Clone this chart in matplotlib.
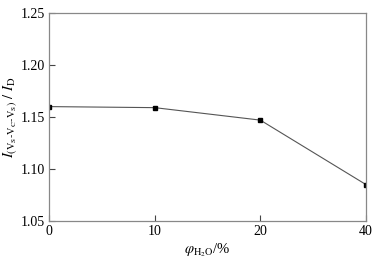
import matplotlib.pyplot as plt

labels = ['0', '10', '20', '40']
ratio = [1.160, 1.159, 1.147, 1.085]

plt.rcParams['font.family'] = ['Liberation Serif', 'DejaVu Serif']
plt.rcParams['mathtext.fontset'] = 'stix'

fig = plt.figure(figsize=(3.73, 2.58), dpi=100)
ax = fig.add_axes([49 / 373, 1 - 221 / 258, 317 / 373, 208 / 258])

x = list(range(len(labels)))
ax.plot(x, ratio, color='#555555', lw=0.8, marker='s', ms=3.5,
        mfc='black', mec='black', clip_on=True)

ax.set_xlim(0, 3)
ax.set_ylim(1.05, 1.25)
ax.set_xticks(x)
ax.set_xticklabels(labels)
ax.set_yticks([1.05, 1.10, 1.15, 1.20, 1.25])
ax.set_yticklabels(['1.05', '1.10', '1.15', '1.20', '1.25'])
ax.tick_params(direction='in', length=4, width=0.8, color='#444444',
               labelsize=10, pad=3)
for s in ax.spines.values():
    s.set_color('#888888')
    s.set_linewidth(0.9)

ax.set_ylabel(r'$I_{(\mathrm{V_S}\text{-}\mathrm{V_C}\text{-}\mathrm{V_S})}\ /\ I_{\mathrm{D}}$',
              fontsize=10.5, labelpad=1)
ax.set_xlabel(r'$\varphi_{\mathrm{H_2O}}$/%', fontsize=10.5, labelpad=2)

plt.savefig('out.png', dpi=100)
